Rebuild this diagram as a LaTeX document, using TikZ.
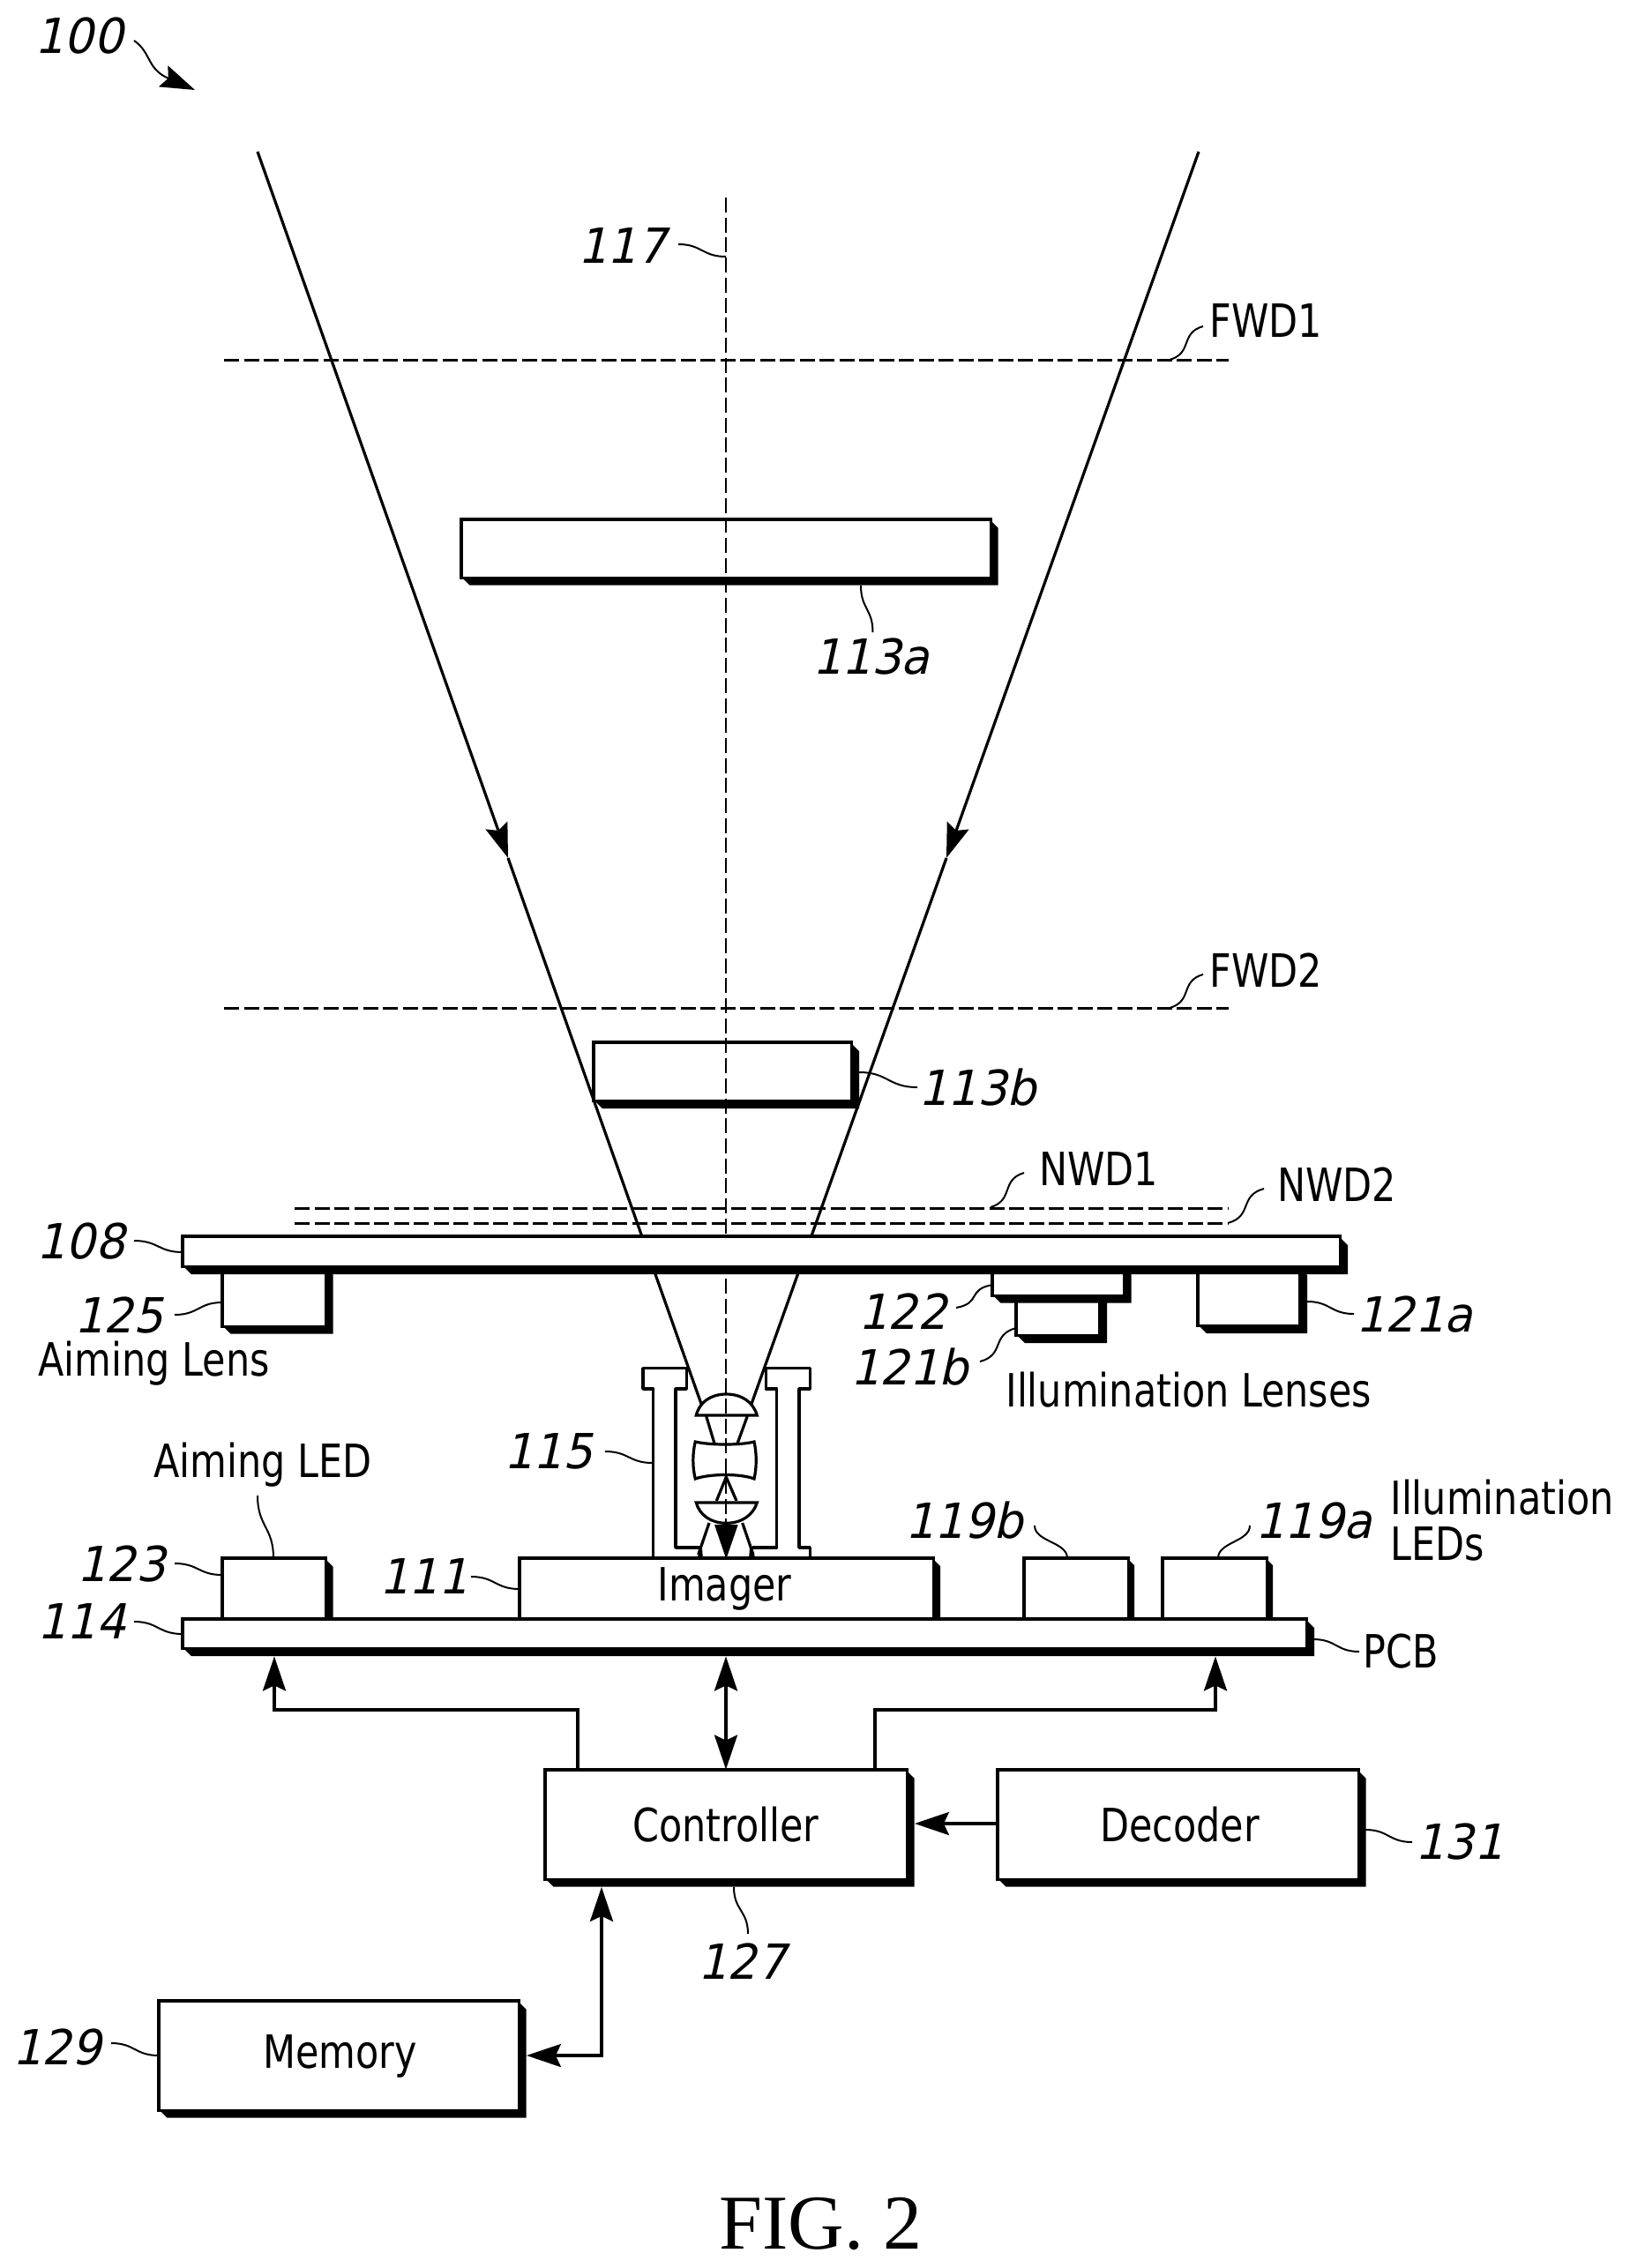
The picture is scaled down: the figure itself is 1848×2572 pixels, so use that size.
\documentclass[tikz,border=0pt]{standalone}
\usepackage{fontspec}
\usetikzlibrary{arrows.meta,fit,calc}
\setmainfont{DejaVu Sans}
\newfontfamily\labf{DejaVu Sans}[FakeStretch=0.825]
\newfontfamily\numf{DejaVu Sans}[FakeStretch=0.96,FakeSlant=0.22]
\newfontfamily\figf{Liberation Serif}
\tikzset{
  lab/.style={anchor=base west,inner sep=0pt,xshift=-1pt,font=\labf\fontsize{26pt}{30pt}\selectfont},
  num/.style={anchor=base west,inner sep=0pt,xshift=-3pt,font=\numf\fontsize{27.4pt}{30pt}\selectfont},
  boxline/.style={line width=1.75pt,line join=miter},
  ray/.style={line width=1.6pt},
  wire/.style={line width=1.75pt},
  thinl/.style={line width=1.6pt},
  lead/.style={line width=1pt},
  axisl/.style={line width=1.3pt,dash pattern=on 8.5pt off 2.85pt},
  wd/.style={line width=1.5pt,dash pattern=on 8.5pt off 2.75pt},
  >={Stealth[length=19.5pt,width=13pt,inset=3pt]},
}
% name, left, top, white right, white bottom, shadow depth
\newcommand{\shbox}[6]{%
  \fill[black] (#2,#5) -- (#2+#6,#5+#6) -- (#4+#6,#5+#6) -- (#4+#6,#3+#6) -- (#4,#3) -- cycle;
  \draw[boxline,fill=white] (#2,#3) rectangle (#4+1.7,#5+1.7);
  \node[fit={(#2,#3)(#4+#6,#5+#6)},inner sep=0pt] (#1) {};
}
% leaders: id, x1,y1,x2,y2
\newcommand{\leadH}[5]{%
  \coordinate (#1a) at (#2,#3); \coordinate (#1b) at (#4,#5);
  \draw[lead] (#1a) .. controls ({(#2+#4)/2},#3) and ({(#2+#4)/2},#5) .. (#1b);}
\newcommand{\leadV}[5]{%
  \coordinate (#1a) at (#2,#3); \coordinate (#1b) at (#4,#5);
  \draw[lead] (#1a) .. controls (#2,{(#3+#5)/2}) and (#4,{(#3+#5)/2}) .. (#1b);}
\newcommand{\leadD}[5]{%
  \coordinate (#1a) at (#2,#3); \coordinate (#1b) at (#4,#5);
  \draw[lead] (#1a) .. controls ({#2+0.7*(#4-#2)},{#3+0.2*(#5-#3)}) and ({#2+0.3*(#4-#2)},{#3+0.8*(#5-#3)}) .. (#1b);}
\begin{document}
\begin{tikzpicture}[x=0.5pt,y=-0.5pt]
\fill[white] (0,0) rectangle (1848,2572);
\useasboundingbox (0,0) rectangle (1848,2572);

% far objects
\shbox{b113a}{523}{589}{1122}{654}{9.5}
\shbox{b113b}{673}{1182}{964}{1247}{10}

% working distance lines
\coordinate (f1l) at (254,408); \coordinate (f1r) at (1393,408);
\coordinate (f2l) at (254,1143); \coordinate (f2r) at (1393,1143);
\coordinate (n1l) at (334,1370); \coordinate (n1r) at (1393,1370);
\coordinate (n2l) at (334,1387); \coordinate (n2r) at (1393,1387);
\draw[wd] (f1l) -- (f1r);
\draw[wd] (f2l) -- (f2r);
\draw[wd] (n1l) -- (n1r);
\draw[wd] (n2l) -- (n2r);

% axis
\coordinate (axt) at (823,224); \coordinate (axb) at (823,1767);
\draw[axisl] (axt) -- (axb);

% rays
\coordinate (rlt) at (292,172); \coordinate (rlm) at (576,973); \coordinate (rle) at (795,1592);
\coordinate (rrt) at (1359,172); \coordinate (rrm) at (1073,973); \coordinate (rre) at (852,1592);
\draw[ray,->] (rlt) -- (rlm);
\draw[ray] (rlm) -- (rle);
\draw[ray,->] (rrt) -- (rrm);
\draw[ray] (rrm) -- (rre);

% lenses under the window
\shbox{b125}{252}{1436}{368}{1503}{9.5}
\shbox{b121b}{1152}{1460}{1245}{1513}{10}
\shbox{b122}{1125}{1436}{1273}{1468}{9.5}
\shbox{b121a}{1358}{1436}{1472}{1502}{10}
\shbox{b108}{207}{1402}{1518}{1435}{10}

% PCB components
\shbox{b123}{252}{1767}{368}{1836}{9.5}
\shbox{b111}{589}{1767}{1057}{1836}{9}
\shbox{b119b}{1161}{1767}{1278}{1836}{8}
\shbox{b119a}{1318}{1767}{1435}{1836}{8}
\shbox{b114}{207}{1836}{1480}{1868}{10}

% barrel
\draw[boxline,line join=round] (740.7,1767) -- (740.7,1575) -- (729,1575) -- (729,1551.7) -- (778.3,1551.7) -- (778.3,1575) -- (766,1575) -- (766,1755) -- (793.3,1755);
\draw[boxline,line join=round] (853.3,1755) -- (880.7,1755) -- (880.7,1575) -- (868.3,1575) -- (868.3,1551.7) -- (918.3,1551.7) -- (918.3,1575) -- (906,1575) -- (906,1755) -- (918.3,1755) -- (918.3,1767);
% lens group
\draw[thinl] (789.3,1605) .. controls (793,1590) and (806,1581) .. (823.3,1581) .. controls (841,1581) and (854,1590) .. (858.3,1605) -- cycle;
\draw[thinl] (800.7,1606) -- (810,1637);
\draw[thinl] (847.3,1606) -- (836,1637);
\draw[thinl] (788.3,1635) .. controls (805,1639) and (840,1639) .. (855,1635) .. controls (858,1648) and (858,1664) .. (855,1677) .. controls (840,1671) and (805,1671) .. (788.3,1677) .. controls (785,1664) and (785,1648) .. (788.3,1635) -- cycle;
\draw[thinl] (812.3,1702) -- (823.3,1675) -- (835,1702);
\draw[thinl] (789.3,1704) -- (858.3,1704) .. controls (854,1718) and (841,1727.3) .. (823.3,1727.3) .. controls (806,1727.3) and (793,1718) .. (789.3,1704) -- cycle;
\draw[thinl] (804,1727) -- (791.7,1763);
\draw[thinl] (841.7,1727) -- (854,1763);
\fill[black] (810,1729) -- (836.7,1729) -- (823.3,1768) -- cycle;
\fill[black] (789,1768) -- (797,1768) -- (796,1756) -- cycle;
\fill[black] (850,1756) -- (849,1768) -- (858,1768) -- cycle;

% blocks
\shbox{ctrl}{618}{2007}{1027}{2130}{9.5}
\shbox{dec}{1131}{2007}{1539}{2130}{9.5}
\shbox{mem}{180}{2269}{587}{2392}{9.5}

% connectors
\draw[wire,->] (ctrl.north -| 655,0) -- (655,1939) -- (311,1939) -- (b114.south -| 311,0);
\draw[wire,->] (ctrl.north -| 992,0) -- (992,1939) -- (1378,1939) -- (b114.south -| 1378,0);
\draw[wire,<->] (b114.south -| 823,0) -- (ctrl.north -| 823,0);
\draw[wire,->] (dec.west |- 0,2068) -- (ctrl.east |- 0,2068);
\draw[wire,<->] (ctrl.south -| 682,0) -- (682,2331) -- (mem.east |- 0,2331);

% leaders
\coordinate (h100a) at (152,46); \coordinate (h100b) at (221,102);
\draw[lead,-{Stealth[length=19.5pt,width=13pt,inset=3pt]}] (h100a) .. controls (172,60) and (166,78) .. (h100b);
\leadH{l117}{769}{277}{823}{291}
\leadD{lf1}{1326}{408}{1364}{370}
\leadD{lf2}{1326}{1143}{1364}{1105}
\leadV{l113a}{976}{664}{989.5}{717}
\leadH{l113b}{974}{1216}{1040}{1233}
\leadD{ln1}{1123}{1369}{1161}{1330}
\leadD{ln2}{1392}{1387}{1433}{1348}
\leadH{l108}{152}{1407}{207}{1420}
\leadH{l125}{198}{1491}{252}{1477}
\leadD{l122}{1084}{1483}{1125}{1457}
\leadD{l121b}{1111}{1544}{1152}{1506}
\leadH{l121a}{1482}{1476}{1535}{1490}
\leadH{l115}{686}{1646}{740}{1659}
\leadV{lal}{292}{1696}{310}{1767}
\leadH{l123}{198}{1773}{252}{1786}
\leadH{l111}{534}{1788}{589}{1802}
\leadH{l114}{152}{1839}{207}{1853}
\leadV{l119b}{1173}{1730}{1210}{1767}
\leadV{l119a}{1417}{1730}{1381}{1767}
\leadH{lpcb}{1489}{1859}{1541}{1873}
\leadV{l127}{832}{2140}{848}{2193}
\leadH{l131}{1548}{2075}{1601}{2089}
\leadH{l129}{126}{2317}{180}{2331}

% numbers
\node[num] (t100) at (45,60) {100};
\node[num] (t117) at (661,298) {117};
\node[num] (t113a) at (927,764) {113a};
\node[num] (t113b) at (1047,1253) {113b};
\node[num] (t108) at (47,1427) {108};
\node[num] (t125) at (90,1511) {125};
\node[num] (t122) at (979,1507) {122};
\node[num] (t121b) at (970,1570) {121b};
\node[num] (t121a) at (1543,1510) {121a};
\node[num] (t115) at (577,1665) {115};
\node[num] (t123) at (93,1793) {123};
\node[num] (t111) at (436,1807) {111};
\node[num] (t114) at (48,1858) {114};
\node[num] (t119b) at (1032,1744) {119b};
\node[num] (t119a) at (1429,1744) {119a};
\node[num] (t127) at (797,2244) {127};
\node[num] (t129) at (20,2341) {129};
\node[num] (t131) at (1610,2108) {131};

% words
\node[lab] (wf1) at (1373,382) {FWD1};
\node[lab] (wf2) at (1373,1119) {FWD2};
\node[lab] (wn1) at (1180,1344) {NWD1};
\node[lab] (wn2) at (1450,1362) {NWD2};
\node[lab] (wal) at (45,1560) {Aiming Lens};
\node[lab] (wil) at (1142,1595) {Illumination Lenses};
\node[lab] (wled) at (176,1675) {Aiming LED};
\node[lab] (wimg) at (747,1815) {Imager};
\node[lab] (will) at (1578,1717) {Illumination};
\node[lab] (wleds) at (1578,1769) {LEDs};
\node[lab] (wpcb) at (1547,1891) {PCB};
\node[lab] (wctrl) at (719,2088) {Controller};
\node[lab] (wdec) at (1249,2088) {Decoder};
\node[lab] (wmem) at (300,2345) {Memory};
\node[anchor=base west,inner sep=0pt,font=\figf\fontsize{44pt}{50pt}\selectfont] (wfig) at (815,2550) {FIG. 2};
\end{tikzpicture}
\end{document}
